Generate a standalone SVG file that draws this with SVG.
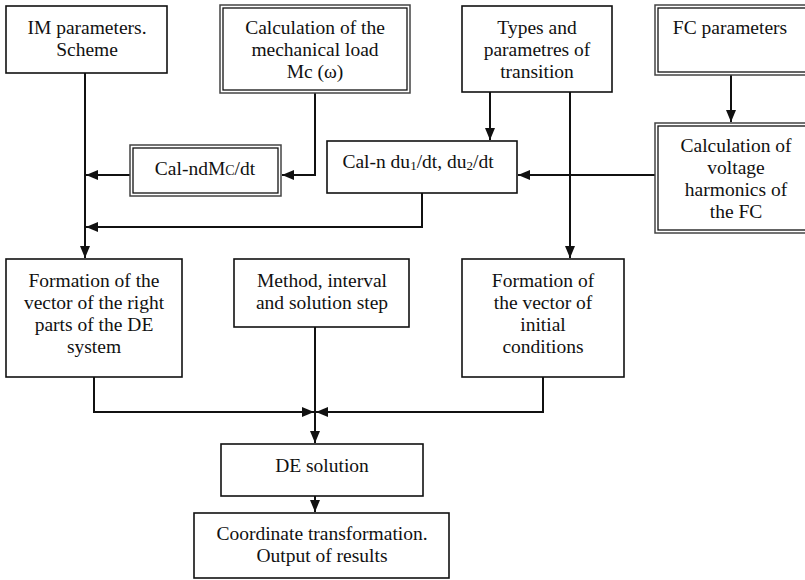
<svg xmlns="http://www.w3.org/2000/svg" width="805" height="580" viewBox="0 0 805 580">
<defs>
<style>
.box{fill:#fff;stroke:#111;stroke-width:1.6}
.outer{fill:#fff;stroke:#444;stroke-width:1.5}
.inner{fill:none;stroke:#111;stroke-width:1.3}
.t{font-family:'Liberation Serif',serif;font-size:19.5px;fill:#111;text-anchor:middle}
.c{fill:none;stroke:#111;stroke-width:2}
.s{font-size:13px}
</style>
<marker id="ah" markerUnits="userSpaceOnUse" markerWidth="12" markerHeight="10" refX="12" refY="5" orient="auto">
<path d="M0,0 L12,5 L0,10 z" fill="#111"/>
</marker>
</defs>
<rect width="805" height="580" fill="#fff"/>

<g id="connectors">
<path class="c" d="M85,73 V258" marker-end="url(#ah)"/>
<path class="c" d="M315,93 V175 H282" marker-end="url(#ah)"/>
<path class="c" d="M133,175 H86" marker-end="url(#ah)"/>
<path class="c" d="M422,193 V227 H86" marker-end="url(#ah)"/>
<path class="c" d="M490,92 V140" marker-end="url(#ah)"/>
<path class="c" d="M570,92 V258" marker-end="url(#ah)"/>
<path class="c" d="M731,75 V122" marker-end="url(#ah)"/>
<path class="c" d="M655,175 H518" marker-end="url(#ah)"/>
<path class="c" d="M94,377 V412 H314" marker-end="url(#ah)"/>
<path class="c" d="M543,377 V412 H316" marker-end="url(#ah)"/>
<path class="c" d="M315,327 V443" marker-end="url(#ah)"/>
<path class="c" d="M315,496 V512" marker-end="url(#ah)"/>
</g>

<g id="im-params">
<rect class="box" x="6" y="6" width="161" height="67"/>
<text class="t" x="87" y="34" font-family="Liberation Serif">IM parameters.</text>
<text class="t" x="87" y="56">Scheme</text>
</g>

<g id="mech-load">
<rect class="outer" x="220" y="5" width="190" height="88"/>
<rect class="inner" x="223" y="8" width="184" height="82"/>
<text class="t" x="315" y="34">Calculation of the</text>
<text class="t" x="315" y="56">mechanical load</text>
<text class="t" x="315" y="78">Mc (ω)</text>
</g>

<g id="types">
<rect class="box" x="462" y="6" width="150" height="86"/>
<text class="t" x="537" y="34">Types and</text>
<text class="t" x="537" y="56">parametres of</text>
<text class="t" x="537" y="78">transition</text>
</g>

<g id="fc-params">
<rect class="outer" x="655" y="5" width="155" height="70"/>
<rect class="inner" x="658" y="8" width="152" height="64"/>
<text class="t" x="730" y="34">FC parameters</text>
</g>

<g id="cal-ndmc">
<rect class="outer" x="130" y="145" width="151" height="51"/>
<rect class="inner" x="133" y="148" width="145" height="45"/>
<text class="t" x="205" y="175">Cal-ndM<tspan style="font-size:14px">C</tspan>/dt</text>
</g>

<g id="cal-du">
<rect class="box" x="327" y="141" width="190" height="52"/>
<text class="t" x="418" y="168">Cal-n du<tspan class="s" dy="2">1</tspan><tspan dy="-2">/dt, du</tspan><tspan class="s" dy="2">2</tspan><tspan dy="-2">/dt</tspan></text>
</g>

<g id="voltage-harm">
<rect class="outer" x="655" y="123" width="155" height="110"/>
<rect class="inner" x="658" y="126" width="152" height="104"/>
<text class="t" x="736" y="152">Calculation of</text>
<text class="t" x="736" y="174">voltage</text>
<text class="t" x="736" y="196">harmonics of</text>
<text class="t" x="736" y="218">the FC</text>
</g>

<g id="right-parts">
<rect class="box" x="6" y="259" width="176" height="118"/>
<text class="t" x="94" y="287">Formation of the</text>
<text class="t" x="94" y="309">vector of the right</text>
<text class="t" x="94" y="331">parts of the DE</text>
<text class="t" x="94" y="353">system</text>
</g>

<g id="method">
<rect class="box" x="234" y="259" width="175" height="68"/>
<text class="t" x="322" y="287">Method, interval</text>
<text class="t" x="322" y="309">and solution step</text>
</g>

<g id="initial">
<rect class="box" x="462" y="259" width="162" height="118"/>
<text class="t" x="543" y="287">Formation of</text>
<text class="t" x="543" y="309">the vector of</text>
<text class="t" x="543" y="331">initial</text>
<text class="t" x="543" y="353">conditions</text>
</g>

<g id="de-solution">
<rect class="box" x="221" y="444" width="202" height="52"/>
<text class="t" x="322" y="472">DE solution</text>
</g>

<g id="coord-transform">
<rect class="box" x="194" y="513" width="255" height="65"/>
<text class="t" x="322" y="540">Coordinate transformation.</text>
<text class="t" x="322" y="562">Output of results</text>
</g>
</svg>
